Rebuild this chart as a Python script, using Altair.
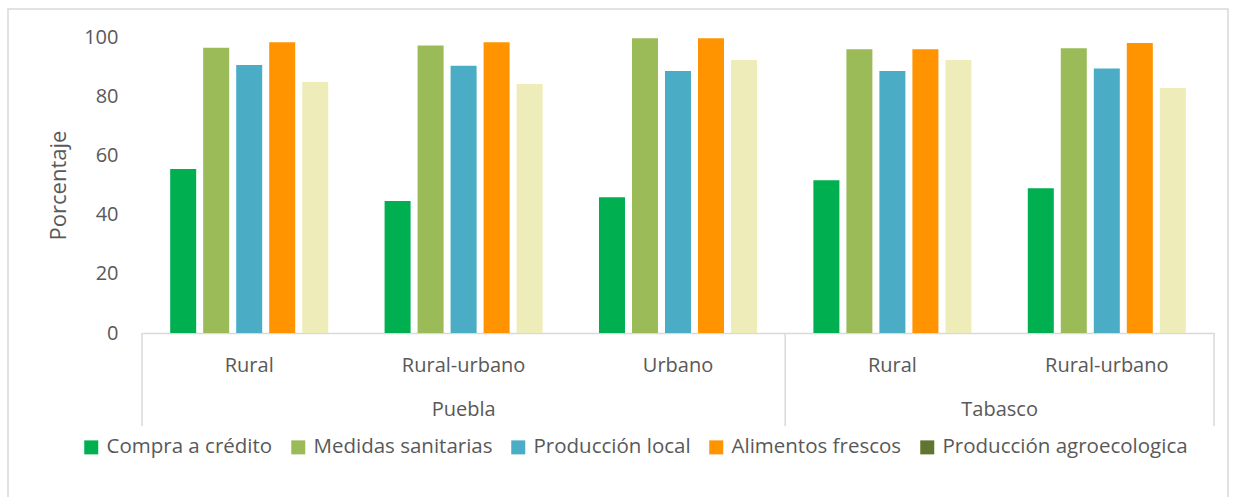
import altair as alt
import pandas as pd

# Categories: state and type of locality
estados = ["Puebla", "Puebla", "Puebla", "Tabasco", "Tabasco"]
zonas = ["Rural", "Rural-urbano", "Urbano", "Rural", "Rural-urbano"]

series = [
    "Compra a crédito",
    "Medidas sanitarias",
    "Producción local",
    "Alimentos frescos",
    "Producción agroecologica",
]

# Percentage per locality, one list per series
compra_credito = [55.4, 44.6, 45.9, 51.6, 48.9]
medidas_sanitarias = [96.4, 97.1, 99.6, 95.9, 96.2]
produccion_local = [90.5, 90.3, 88.5, 88.5, 89.4]
alimentos_frescos = [98.2, 98.2, 99.6, 95.9, 98.0]
produccion_agroecologica = [84.8, 84.1, 92.2, 92.2, 82.8]

y_ticks = [0, 20, 40, 60, 80, 100]

# Legend swatches; the last series' bars are drawn in a pale tone
colores_leyenda = ["#00B050", "#9BBB59", "#4BACC6", "#FF9300", "#617531"]
color_barra_agroecologica = "#EEECB8"

GRIS_TEXTO = "#595959"
GRIS_LINEA = "#D9D9D9"
FUENTE = "Open Sans"

valores = [compra_credito, medidas_sanitarias, produccion_local,
           alimentos_frescos, produccion_agroecologica]

claves = [f"{e}|{z}" for e, z in zip(estados, zonas)]
filas = []
for serie, vals in zip(series, valores):
    for clave, v in zip(claves, vals):
        filas.append({"clave": clave, "serie": serie, "valor": v})
df = pd.DataFrame(filas)

# Group spans along the category axis (in band units)
grupos = []
inicio = 0
for estado in dict.fromkeys(estados):
    n = estados.count(estado)
    grupos.append({"estado": estado, "inicio": inicio, "fin": inicio + n,
                   "centro": inicio + n / 2})
    inicio += n
df_grupos = pd.DataFrame(grupos)
df_bordes = pd.DataFrame({"borde": sorted({g["inicio"] for g in grupos} | {g["fin"] for g in grupos})})

W, H = 1072, 296
LEFT, TOP = 142, 37

barras = alt.Chart(df).mark_bar().encode(
    x=alt.X(
        "clave:N",
        sort=claves,
        scale=alt.Scale(domain=claves, paddingInner=0, paddingOuter=0),
        axis=alt.Axis(
            title=None,
            labelExpr="split(datum.label, '|')[1]",
            labelAngle=0,
            ticks=False,
            tickSize=0,
            domainColor=GRIS_LINEA,
            domainWidth=1.5,
            labelFont=FUENTE,
            labelFontSize=20,
            labelColor=GRIS_TEXTO,
            labelPadding=32,
            labelBaseline="middle",
        ),
    ),
    xOffset=alt.XOffset(
        "serie:N",
        sort=series,
        scale=alt.Scale(domain=series, paddingInner=0.212, paddingOuter=0.854),
    ),
    y=alt.Y(
        "valor:Q",
        scale=alt.Scale(domain=[0, 100], nice=False),
        axis=alt.Axis(
            values=y_ticks,
            grid=False,
            domain=False,
            ticks=False,
            labelFont=FUENTE,
            labelFontSize=20,
            labelColor=GRIS_TEXTO,
            labelPadding=24,
            title="Porcentaje",
            titleFont=FUENTE,
            titleFontSize=22,
            titleFontWeight="normal",
            titleColor=GRIS_TEXTO,
            titleX=-84,
            titleY=H / 2,
            titleAngle=270,
            titleAlign="center",
            titleBaseline="middle",
        ),
    ),
    color=alt.condition(
        alt.datum.serie == series[-1],
        alt.value(color_barra_agroecologica),
        alt.Color(
            "serie:N",
            sort=series,
            scale=alt.Scale(domain=series, range=colores_leyenda),
            legend=alt.Legend(
                title=None,
                orient="none",
                direction="horizontal",
                columns=5,
                legendX=-61,
                legendY=400,
                padding=0,
                symbolType="square",
                symbolSize=196,
                symbolOpacity=1,
                symbolStrokeWidth=0,
                labelFont=FUENTE,
                labelFontSize=20.5,
                labelColor=GRIS_TEXTO,
                labelOffset=5,
                labelLimit=0,
                columnPadding=15,
            ),
        ),
    ),
)

escala_grupos = alt.Scale(domain=[0, len(claves)], nice=False, zero=True)

bordes = alt.Chart(df_bordes).mark_rule(color=GRIS_LINEA, strokeWidth=1.5).encode(
    x=alt.X("borde:Q", scale=escala_grupos, axis=None),
    y=alt.value(H),
    y2=alt.value(389),
)

etiquetas_grupo = alt.Chart(df_grupos).mark_text(
    font=FUENTE, fontSize=20, color=GRIS_TEXTO, baseline="middle", align="center"
).encode(
    x=alt.X("centro:Q", scale=escala_grupos, axis=None),
    y=alt.value(373),
    text="estado:N",
)

marco = alt.Chart(pd.DataFrame({"k": [0]})).mark_rect(
    fillOpacity=0, stroke=GRIS_LINEA, strokeWidth=1.5
).encode(
    x=alt.value(8 - LEFT),
    x2=alt.value(1228 - LEFT),
    y=alt.value(9 - TOP),
    y2=alt.value(470),
)

chart = (
    alt.layer(marco, barras, bordes, etiquetas_grupo)
    .resolve_scale(x="independent")
    .properties(
        width=W,
        height=H,
        autosize=alt.AutoSizeParams(type="none"),
        padding={"left": LEFT, "top": TOP, "right": 1238 - LEFT - W, "bottom": 497 - TOP - H},
        background="white",
    )
    .configure_view(stroke=None)
)

chart.save("out.html", embed_options={"renderer": "svg", "actions": False})
